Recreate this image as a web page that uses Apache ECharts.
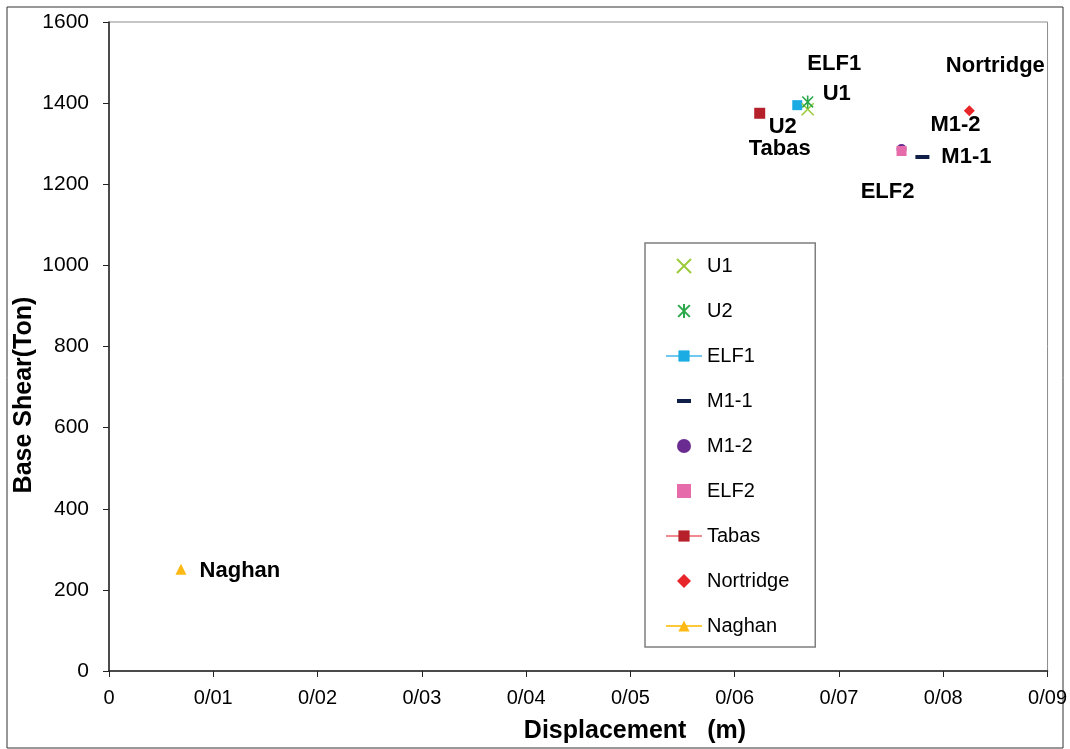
<!DOCTYPE html>
<html><head><meta charset="utf-8">
<script src="https://cdn.jsdelivr.net/npm/echarts@6/dist/echarts.min.js"></script>
<style>html,body{margin:0;padding:0;background:#fff}#c{width:1070px;height:749px}</style>
</head><body><div id="c"></div>
<script>
const names = ['U1','U2','ELF1','M1-1','M1-2','ELF2','Tabas','Nortridge','Naghan'];
const displacement = [0.0670,0.0670,0.0660,0.0780,0.0760,0.0760,0.0624,0.0825,0.0069];
const baseShear = [1385,1403,1395,1267,1287,1282,1375,1381,251];
const xTickLabels = ['0','0/01','0/02','0/03','0/04','0/05','0/06','0/07','0/08','0/09'];
const yTickLabels = ['0','200','400','600','800','1000','1200','1400','1600'];
const xTitle = 'Displacement   (m)';
const yTitle = 'Base Shear(Ton)';

const styles = {
  'U1':{type:'scatter',symbol:'path://M0,0L10,10M10,0L0,10',size:12,color:'#9BCB3B',stroke:true,offset:[29,-15],z:5},
  'U2':{type:'scatter',symbol:'path://M0,0L10,10M10,0L0,10M5,-1L5,11',size:13,color:'#2AA84A',stroke:true,offset:[-25,25],z:6},
  'ELF1':{type:'line',symbol:'rect',size:10,color:'#1AACE3',line:'#6FC8EE',offset:[37,-41],z:3},
  'M1-1':{type:'scatter',symbol:'path://M0,5L14,5L14,9L0,9Z M0,0L0.01,0Z M0,14L0.01,14Z',size:14,color:'#0F1F48',offset:[44,0],z:3},
  'M1-2':{type:'scatter',symbol:'circle',size:10,color:'#6B2C91',offset:[54,-24],z:3},
  'ELF2':{type:'scatter',symbol:'path://M0,0L10,0L10,10L0,10Z',size:10,color:'#E56BAA',offset:[-14,41],z:4},
  'Tabas':{type:'line',symbol:'rect',size:11,color:'#B5202B',line:'#F08A8E',offset:[20,36],z:3},
  'Nortridge':{type:'scatter',symbol:'path://M5,0L10,5L5,10L0,5Z',size:11,color:'#E8262A',offset:[26,-45],z:3},
  'Naghan':{type:'line',symbol:'triangle',size:11,color:'#FDB913',line:'#FDC83A',offset:[59,2],z:3}
};

const series = names.map((n,i)=>{
  const s = styles[n];
  const o = {
    name:n, type:s.type, z:s.z,
    data:[[displacement[i], baseShear[i]]],
    symbol:s.symbol, symbolSize:s.size, symbolKeepAspect:true,
    itemStyle: s.stroke ? {color:'rgba(0,0,0,0)', borderColor:s.color, borderWidth:1.6, opacity:1} : {color:s.color, opacity:1},
    label:{show:true, position:'inside', offset:s.offset, formatter:n, color:'#000', fontFamily:'Liberation Sans, Arial', fontWeight:'bold', fontSize:22},
    emphasis:{disabled:true},
    animation:false
  };
  if (s.type==='line') { o.lineStyle = {color:s.line, width:1.5}; o.showSymbol = true; }
  return o;
});

const chart = echarts.init(document.getElementById('c'), null, {renderer:'canvas'});
chart.setOption({
  animation:false,
  backgroundColor:'#fff',
  grid:{left:109, right:22, top:22, bottom:78, show:true, borderColor:'#8c8c8c', borderWidth:1},
  xAxis:{type:'value', min:0, max:0.09, interval:0.01,
    axisLine:{show:true, onZero:false, lineStyle:{color:'#222', width:1.5}},
    axisTick:{show:true, length:6, lineStyle:{color:'#222'}},
    splitLine:{show:false},
    axisLabel:{color:'#000', fontSize:20, fontFamily:'Liberation Sans, Arial', margin:17,
      formatter:(v)=>xTickLabels[Math.round(v/0.01)]}
  },
  yAxis:{type:'value', min:0, max:1600, interval:200,
    axisLine:{show:true, onZero:false, lineStyle:{color:'#222', width:1.5}},
    axisTick:{show:true, length:6, lineStyle:{color:'#222'}},
    splitLine:{show:false},
    axisLabel:{color:'#000', fontSize:21, fontFamily:'Liberation Sans, Arial', margin:20,
      formatter:(v)=>yTickLabels[Math.round(v/200)]}
  },
  legend:{orient:'vertical', left:645, top:243, padding:[13,26,11,20],
    itemWidth:36, itemHeight:14, itemGap:25,
    borderColor:'#7f7f7f', borderWidth:1.5, backgroundColor:'#fff',
    textStyle:{color:'#000', fontSize:20, lineHeight:20, fontFamily:'Liberation Sans, Arial'},
    data:names, selectedMode:false},
  graphic:[
    {type:'rect', x:7, y:7, shape:{width:1056, height:741}, style:{fill:'none', stroke:'#333', lineWidth:1}, silent:true, z:-10},
    {type:'text', x:635, y:731, style:{text:xTitle, font:'bold 25px "Liberation Sans", Arial', fill:'#000', textAlign:'center', textVerticalAlign:'middle'}},
    {type:'text', x:24, y:395, rotation:Math.PI/2, style:{text:yTitle, font:'bold 25px "Liberation Sans", Arial', fill:'#000', textAlign:'center', textVerticalAlign:'middle'}}
  ],
  series:series
});
</script></body></html>
